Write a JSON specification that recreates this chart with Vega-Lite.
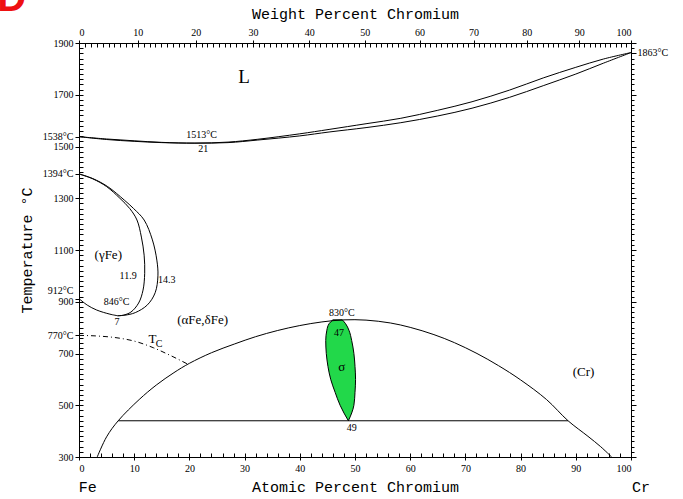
{
  "$schema": "https://vega.github.io/schema/vega-lite/v6.json",
  "width": 552,
  "height": 414,
  "autosize": {"type": "none"},
  "padding": {"left": 79, "top": 43, "right": 52, "bottom": 42},
  "background": "white",
  "config": {
    "view": {"stroke": null},
    "axis": {
      "grid": false,
      "domainColor": "black",
      "tickColor": "black",
      "labelColor": "black",
      "titleColor": "black",
      "labelFont": "Liberation Serif",
      "labelFontSize": 10,
      "titleFont": "Liberation Mono",
      "titleFontSize": 15,
      "titleFontWeight": "normal",
      "labelOverlap": false
    }
  },
  "datasets": {
    "curves": [
      {"curve": "liquidus", "at": 0, "T": 1538}, {"curve": "liquidus", "at": 5, "T": 1529}, {"curve": "liquidus", "at": 10, "T": 1522},
      {"curve": "liquidus", "at": 15, "T": 1516}, {"curve": "liquidus", "at": 21, "T": 1513}, {"curve": "liquidus", "at": 27, "T": 1517},
      {"curve": "liquidus", "at": 32.4, "T": 1528}, {"curve": "liquidus", "at": 40, "T": 1549}, {"curve": "liquidus", "at": 45.3, "T": 1566},
      {"curve": "liquidus", "at": 52, "T": 1588}, {"curve": "liquidus", "at": 58.3, "T": 1609}, {"curve": "liquidus", "at": 65, "T": 1640},
      {"curve": "liquidus", "at": 71.2, "T": 1673}, {"curve": "liquidus", "at": 78, "T": 1718}, {"curve": "liquidus", "at": 84.1, "T": 1765},
      {"curve": "liquidus", "at": 90, "T": 1806}, {"curve": "liquidus", "at": 95, "T": 1838}, {"curve": "liquidus", "at": 100, "T": 1863},

      {"curve": "solidus", "at": 0, "T": 1538}, {"curve": "solidus", "at": 5, "T": 1527}, {"curve": "solidus", "at": 10, "T": 1520},
      {"curve": "solidus", "at": 15, "T": 1515}, {"curve": "solidus", "at": 21, "T": 1513}, {"curve": "solidus", "at": 27, "T": 1515},
      {"curve": "solidus", "at": 32.4, "T": 1525}, {"curve": "solidus", "at": 40, "T": 1541}, {"curve": "solidus", "at": 45.3, "T": 1556},
      {"curve": "solidus", "at": 52, "T": 1573}, {"curve": "solidus", "at": 58.3, "T": 1592}, {"curve": "solidus", "at": 65, "T": 1618},
      {"curve": "solidus", "at": 71.2, "T": 1648}, {"curve": "solidus", "at": 78, "T": 1690}, {"curve": "solidus", "at": 84.1, "T": 1735},
      {"curve": "solidus", "at": 90, "T": 1780}, {"curve": "solidus", "at": 95, "T": 1822}, {"curve": "solidus", "at": 100, "T": 1863},

      {"curve": "gamma-inner", "at": 0, "T": 1394}, {"curve": "gamma-inner", "at": 2.5, "T": 1375}, {"curve": "gamma-inner", "at": 5, "T": 1345},
      {"curve": "gamma-inner", "at": 7.4, "T": 1300}, {"curve": "gamma-inner", "at": 9.2, "T": 1260}, {"curve": "gamma-inner", "at": 10.5, "T": 1216},
      {"curve": "gamma-inner", "at": 11.3, "T": 1150}, {"curve": "gamma-inner", "at": 11.8, "T": 1080}, {"curve": "gamma-inner", "at": 11.9, "T": 1010},
      {"curve": "gamma-inner", "at": 11.6, "T": 945}, {"curve": "gamma-inner", "at": 10.8, "T": 895}, {"curve": "gamma-inner", "at": 9.4, "T": 860},
      {"curve": "gamma-inner", "at": 8, "T": 848}, {"curve": "gamma-inner", "at": 7, "T": 846},

      {"curve": "gamma-outer", "at": 0, "T": 1394}, {"curve": "gamma-outer", "at": 2.5, "T": 1376}, {"curve": "gamma-outer", "at": 5.2, "T": 1345},
      {"curve": "gamma-outer", "at": 8.2, "T": 1293}, {"curve": "gamma-outer", "at": 9.9, "T": 1260}, {"curve": "gamma-outer", "at": 11.8, "T": 1216},
      {"curve": "gamma-outer", "at": 13.3, "T": 1139}, {"curve": "gamma-outer", "at": 14.1, "T": 1061}, {"curve": "gamma-outer", "at": 14.3, "T": 1000},
      {"curve": "gamma-outer", "at": 13.8, "T": 935}, {"curve": "gamma-outer", "at": 12.4, "T": 888}, {"curve": "gamma-outer", "at": 10.2, "T": 858},
      {"curve": "gamma-outer", "at": 8.3, "T": 848}, {"curve": "gamma-outer", "at": 7, "T": 846},

      {"curve": "gamma-low", "at": 0, "T": 912}, {"curve": "gamma-low", "at": 1.5, "T": 887}, {"curve": "gamma-low", "at": 3.2, "T": 868},
      {"curve": "gamma-low", "at": 5.6, "T": 852}, {"curve": "gamma-low", "at": 7, "T": 846},

      {"curve": "gap", "at": 3.3, "T": 300}, {"curve": "gap", "at": 5, "T": 378}, {"curve": "gap", "at": 7.1, "T": 440},
      {"curve": "gap", "at": 10.9, "T": 522}, {"curve": "gap", "at": 14, "T": 578}, {"curve": "gap", "at": 17.2, "T": 626},
      {"curve": "gap", "at": 20, "T": 662}, {"curve": "gap", "at": 24, "T": 703}, {"curve": "gap", "at": 28.2, "T": 737},
      {"curve": "gap", "at": 32, "T": 765}, {"curve": "gap", "at": 36, "T": 789}, {"curve": "gap", "at": 40, "T": 808},
      {"curve": "gap", "at": 44, "T": 822}, {"curve": "gap", "at": 48, "T": 830}, {"curve": "gap", "at": 52, "T": 829},
      {"curve": "gap", "at": 56.4, "T": 818}, {"curve": "gap", "at": 60, "T": 801}, {"curve": "gap", "at": 64.3, "T": 773},
      {"curve": "gap", "at": 68, "T": 742}, {"curve": "gap", "at": 72.1, "T": 700}, {"curve": "gap", "at": 76, "T": 653},
      {"curve": "gap", "at": 80, "T": 598}, {"curve": "gap", "at": 84.7, "T": 522}, {"curve": "gap", "at": 88.6, "T": 440},
      {"curve": "gap", "at": 92.2, "T": 380}, {"curve": "gap", "at": 94.5, "T": 340}, {"curve": "gap", "at": 96.5, "T": 300},

      {"curve": "eutectoid", "at": 7.1, "T": 440}, {"curve": "eutectoid", "at": 88.6, "T": 440}
    ],
    "curie": [
      {"at": 0, "T": 770}, {"at": 3, "T": 768}, {"at": 7.4, "T": 759}, {"at": 10, "T": 748},
      {"at": 13.5, "T": 722}, {"at": 16.5, "T": 693}, {"at": 19.6, "T": 660}
    ],
    "sigma": [
      {"T": 830, "lo": 46.0, "hi": 47.7}, {"T": 815, "lo": 45.3, "hi": 48.3}, {"T": 790, "lo": 44.9, "hi": 48.9},
      {"T": 750, "lo": 44.7, "hi": 49.4}, {"T": 700, "lo": 44.8, "hi": 49.8}, {"T": 650, "lo": 45.1, "hi": 50.0},
      {"T": 600, "lo": 45.6, "hi": 50.1}, {"T": 550, "lo": 46.4, "hi": 50.0}, {"T": 500, "lo": 47.3, "hi": 49.8},
      {"T": 470, "lo": 48.0, "hi": 49.4}, {"T": 440, "lo": 48.8, "hi": 48.8}
    ],
    "phases": [
      {"at": 5.3, "T": 1079, "label": "(γFe)"},
      {"at": 22.4, "T": 830, "label": "(αFe,δFe)"},
      {"at": 91.4, "T": 628, "label": "(Cr)"},
      {"at": 47.6, "T": 649, "label": "σ"},
      {"at": 13.3, "T": 756, "label": "T"}
    ],
    "liquid": [{"at": 29.9, "T": 1767, "label": "L"}],
    "notes": [
      {"at": 22.2, "T": 1544, "label": "1513°C"},
      {"at": 22.5, "T": 1490, "label": "21"},
      {"at": 8.9, "T": 1001, "label": "11.9"},
      {"at": 15.9, "T": 983, "label": "14.3"},
      {"at": 6.8, "T": 900, "label": "846°C"},
      {"at": 6.9, "T": 823, "label": "7"},
      {"at": 47.6, "T": 855, "label": "830°C"},
      {"at": 47.1, "T": 780, "label": "47"},
      {"at": 49.4, "T": 413, "label": "49"},
      {"at": 14.5, "T": 738, "label": "C"}
    ],
    "elements": [
      {"at": 1.6, "T": 184, "label": "Fe"},
      {"at": 101.8, "T": 184, "label": "Cr"}
    ],
    "figmark": [{"at": -14.8, "T": 2025, "label": "D"}]
  },
  "resolve": {"axis": {"x": "independent", "y": "independent"}},
  "layer": [
    {
      "data": {"name": "sigma"},
      "mark": {"type": "area", "orient": "horizontal", "interpolate": "monotone", "fill": "#22d84a", "stroke": "black", "strokeWidth": 1},
      "encoding": {
        "y": {
          "field": "T", "type": "quantitative",
          "scale": {"domain": [300, 1900], "nice": false, "zero": false},
          "axis": {
            "orient": "left",
            "values": [300, 500, 700, 900, 1100, 1300, 1500, 1700, 1900, 1538, 1394, 912, 770],
            "labelExpr": "indexof([1538, 1394, 912, 770], datum.value) >= 0 ? datum.value + '°C' : datum.value",
            "labelOffset": {"condition": {"test": "datum.value == 912", "value": -8}, "value": 0},
            "tickSize": 4,
            "labelPadding": 2,
            "title": "Temperature °C",
            "titlePadding": 8
          }
        },
        "x": {
          "field": "lo", "type": "quantitative",
          "scale": {"domain": [0, 100], "nice": false, "zero": false},
          "axis": {
            "orient": "bottom",
            "values": [0, 10, 20, 30, 40, 50, 60, 70, 80, 90, 100],
            "format": "d",
            "tickSize": 3,
            "labelPadding": 3,
            "title": "Atomic Percent Chromium",
            "titlePadding": 6
          }
        },
        "x2": {"field": "hi"}
      }
    },
    {
      "data": {"name": "curves"},
      "mark": {"type": "line", "interpolate": "catmull-rom", "stroke": "black", "strokeWidth": 1},
      "encoding": {
        "x": {
          "field": "at", "type": "quantitative",
          "scale": {"domain": [0, 100], "nice": false, "zero": false},
          "axis": {
            "orient": "top",
            "values": [0, 10.661, 21.167, 31.521, 41.725, 51.785, 61.701, 71.478, 81.118, 90.624, 100],
            "labelExpr": "round(datum.value * 51.996 / (datum.value * 51.996 + (100 - datum.value) * 55.845) * 100)",
            "tickSize": 3,
            "labelPadding": 3,
            "title": "Weight Percent Chromium",
            "titlePadding": 6
          }
        },
        "y": {
          "field": "T", "type": "quantitative",
          "scale": {"domain": [300, 1900], "nice": false, "zero": false},
          "axis": {
            "orient": "right",
            "values": [300, 500, 700, 900, 1100, 1300, 1500, 1700, 1900, 1863],
            "labelExpr": "datum.value == 1863 ? '1863°C' : ''",
            "tickSize": 5,
            "labelPadding": 1,
            "title": null
          }
        },
        "detail": {"field": "curve"},
        "order": {"value": null}
      }
    },
    {
      "data": {"name": "curie"},
      "mark": {"type": "line", "interpolate": "monotone", "stroke": "black", "strokeWidth": 1, "strokeDash": [5, 3, 1, 3]},
      "encoding": {
        "x": {
          "field": "at", "type": "quantitative",
          "scale": {"domain": [0, 100], "nice": false, "zero": false},
          "axis": {
            "orient": "bottom", "labels": false, "domain": false, "title": null, "tickSize": -4,
            "values": [0, 2, 4, 6, 8, 10, 12, 14, 16, 18, 20, 22, 24, 26, 28, 30, 32, 34, 36, 38, 40, 42, 44, 46, 48, 50, 52, 54, 56, 58, 60, 62, 64, 66, 68, 70, 72, 74, 76, 78, 80, 82, 84, 86, 88, 90, 92, 94, 96, 98, 100]
          }
        },
        "y": {
          "field": "T", "type": "quantitative",
          "scale": {"domain": [300, 1900], "nice": false, "zero": false},
          "axis": {
            "orient": "left", "labels": false, "domain": false, "title": null, "tickSize": -4,
            "values": [300, 320, 340, 360, 380, 400, 420, 440, 460, 480, 500, 520, 540, 560, 580, 600, 620, 640, 660, 680, 700, 720, 740, 760, 780, 800, 820, 840, 860, 880, 900, 920, 940, 960, 980, 1000, 1020, 1040, 1060, 1080, 1100, 1120, 1140, 1160, 1180, 1200, 1220, 1240, 1260, 1280, 1300, 1320, 1340, 1360, 1380, 1400, 1420, 1440, 1460, 1480, 1500, 1520, 1540, 1560, 1580, 1600, 1620, 1640, 1660, 1680, 1700, 1720, 1740, 1760, 1780, 1800, 1820, 1840, 1860, 1880, 1900]
          }
        }
      }
    },
    {
      "data": {"name": "phases"},
      "mark": {"type": "text", "font": "Liberation Serif", "fontSize": 13, "align": "center", "baseline": "middle", "color": "black"},
      "encoding": {
        "x": {
          "field": "at", "type": "quantitative",
          "scale": {"domain": [0, 100], "nice": false, "zero": false},
          "axis": {
            "orient": "top", "labels": false, "domain": false, "title": null, "tickSize": -4,
            "values": [0, 1.073, 2.145, 3.215, 4.283, 5.350, 6.416, 7.479, 8.542, 9.602, 10.661, 11.719, 12.775, 13.829, 14.882, 15.933, 16.983, 18.032, 19.078, 20.124, 21.167, 22.209, 23.250, 24.289, 25.327, 26.363, 27.397, 28.431, 29.462, 30.492, 31.521, 32.548, 33.574, 34.598, 35.621, 36.642, 37.661, 38.680, 39.696, 40.712, 41.725, 42.738, 43.749, 44.758, 45.767, 46.773, 47.778, 48.782, 49.785, 50.785, 51.785, 52.783, 53.779, 54.774, 55.768, 56.761, 57.751, 58.741, 59.729, 60.716, 61.701, 62.685, 63.667, 64.649, 65.628, 66.607, 67.584, 68.559, 69.534, 70.507, 71.478, 72.448, 73.417, 74.384, 75.350, 76.315, 77.278, 78.240, 79.201, 80.160, 81.118, 82.075, 83.030, 83.984, 84.937, 85.888, 86.838, 87.787, 88.734, 89.680, 90.624, 91.568, 92.510, 93.451, 94.390, 95.328, 96.265, 97.201, 98.136, 99.069, 100]
          }
        },
        "y": {
          "field": "T", "type": "quantitative",
          "scale": {"domain": [300, 1900], "nice": false, "zero": false},
          "axis": {
            "orient": "right", "labels": false, "domain": false, "title": null, "tickSize": 3,
            "values": [300, 320, 340, 360, 380, 400, 420, 440, 460, 480, 500, 520, 540, 560, 580, 600, 620, 640, 660, 680, 700, 720, 740, 760, 780, 800, 820, 840, 860, 880, 900, 920, 940, 960, 980, 1000, 1020, 1040, 1060, 1080, 1100, 1120, 1140, 1160, 1180, 1200, 1220, 1240, 1260, 1280, 1300, 1320, 1340, 1360, 1380, 1400, 1420, 1440, 1460, 1480, 1500, 1520, 1540, 1560, 1580, 1600, 1620, 1640, 1660, 1680, 1700, 1720, 1740, 1760, 1780, 1800, 1820, 1840, 1860, 1880, 1900]
          }
        },
        "text": {"field": "label"}
      }
    },
    {
      "data": {"name": "liquid"},
      "mark": {"type": "text", "font": "Liberation Serif", "fontSize": 19, "align": "center", "baseline": "middle", "color": "black"},
      "encoding": {
        "x": {"field": "at", "type": "quantitative", "scale": {"domain": [0, 100], "nice": false, "zero": false}, "axis": null},
        "y": {"field": "T", "type": "quantitative", "scale": {"domain": [300, 1900], "nice": false, "zero": false}, "axis": null},
        "text": {"field": "label"}
      }
    },
    {
      "data": {"name": "notes"},
      "mark": {"type": "text", "font": "Liberation Serif", "fontSize": 10, "align": "center", "baseline": "middle", "color": "black"},
      "encoding": {
        "x": {"field": "at", "type": "quantitative", "scale": {"domain": [0, 100], "nice": false, "zero": false}, "axis": null},
        "y": {"field": "T", "type": "quantitative", "scale": {"domain": [300, 1900], "nice": false, "zero": false}, "axis": null},
        "text": {"field": "label"}
      }
    },
    {
      "data": {"name": "elements"},
      "mark": {"type": "text", "font": "Liberation Mono", "fontSize": 15, "align": "center", "baseline": "middle", "color": "black"},
      "encoding": {
        "x": {"field": "at", "type": "quantitative", "scale": {"domain": [0, 100], "nice": false, "zero": false}, "axis": null},
        "y": {"field": "T", "type": "quantitative", "scale": {"domain": [300, 1900], "nice": false, "zero": false}, "axis": null},
        "text": {"field": "label"}
      }
    },
    {
      "data": {"name": "figmark"},
      "mark": {"type": "text", "font": "Liberation Sans", "fontWeight": "bold", "fontSize": 40, "align": "left", "baseline": "alphabetic", "color": "#ee1111"},
      "encoding": {
        "x": {"field": "at", "type": "quantitative", "scale": {"domain": [0, 100], "nice": false, "zero": false}, "axis": null},
        "y": {"field": "T", "type": "quantitative", "scale": {"domain": [300, 1900], "nice": false, "zero": false}, "axis": null},
        "text": {"field": "label"}
      }
    }
  ]
}
